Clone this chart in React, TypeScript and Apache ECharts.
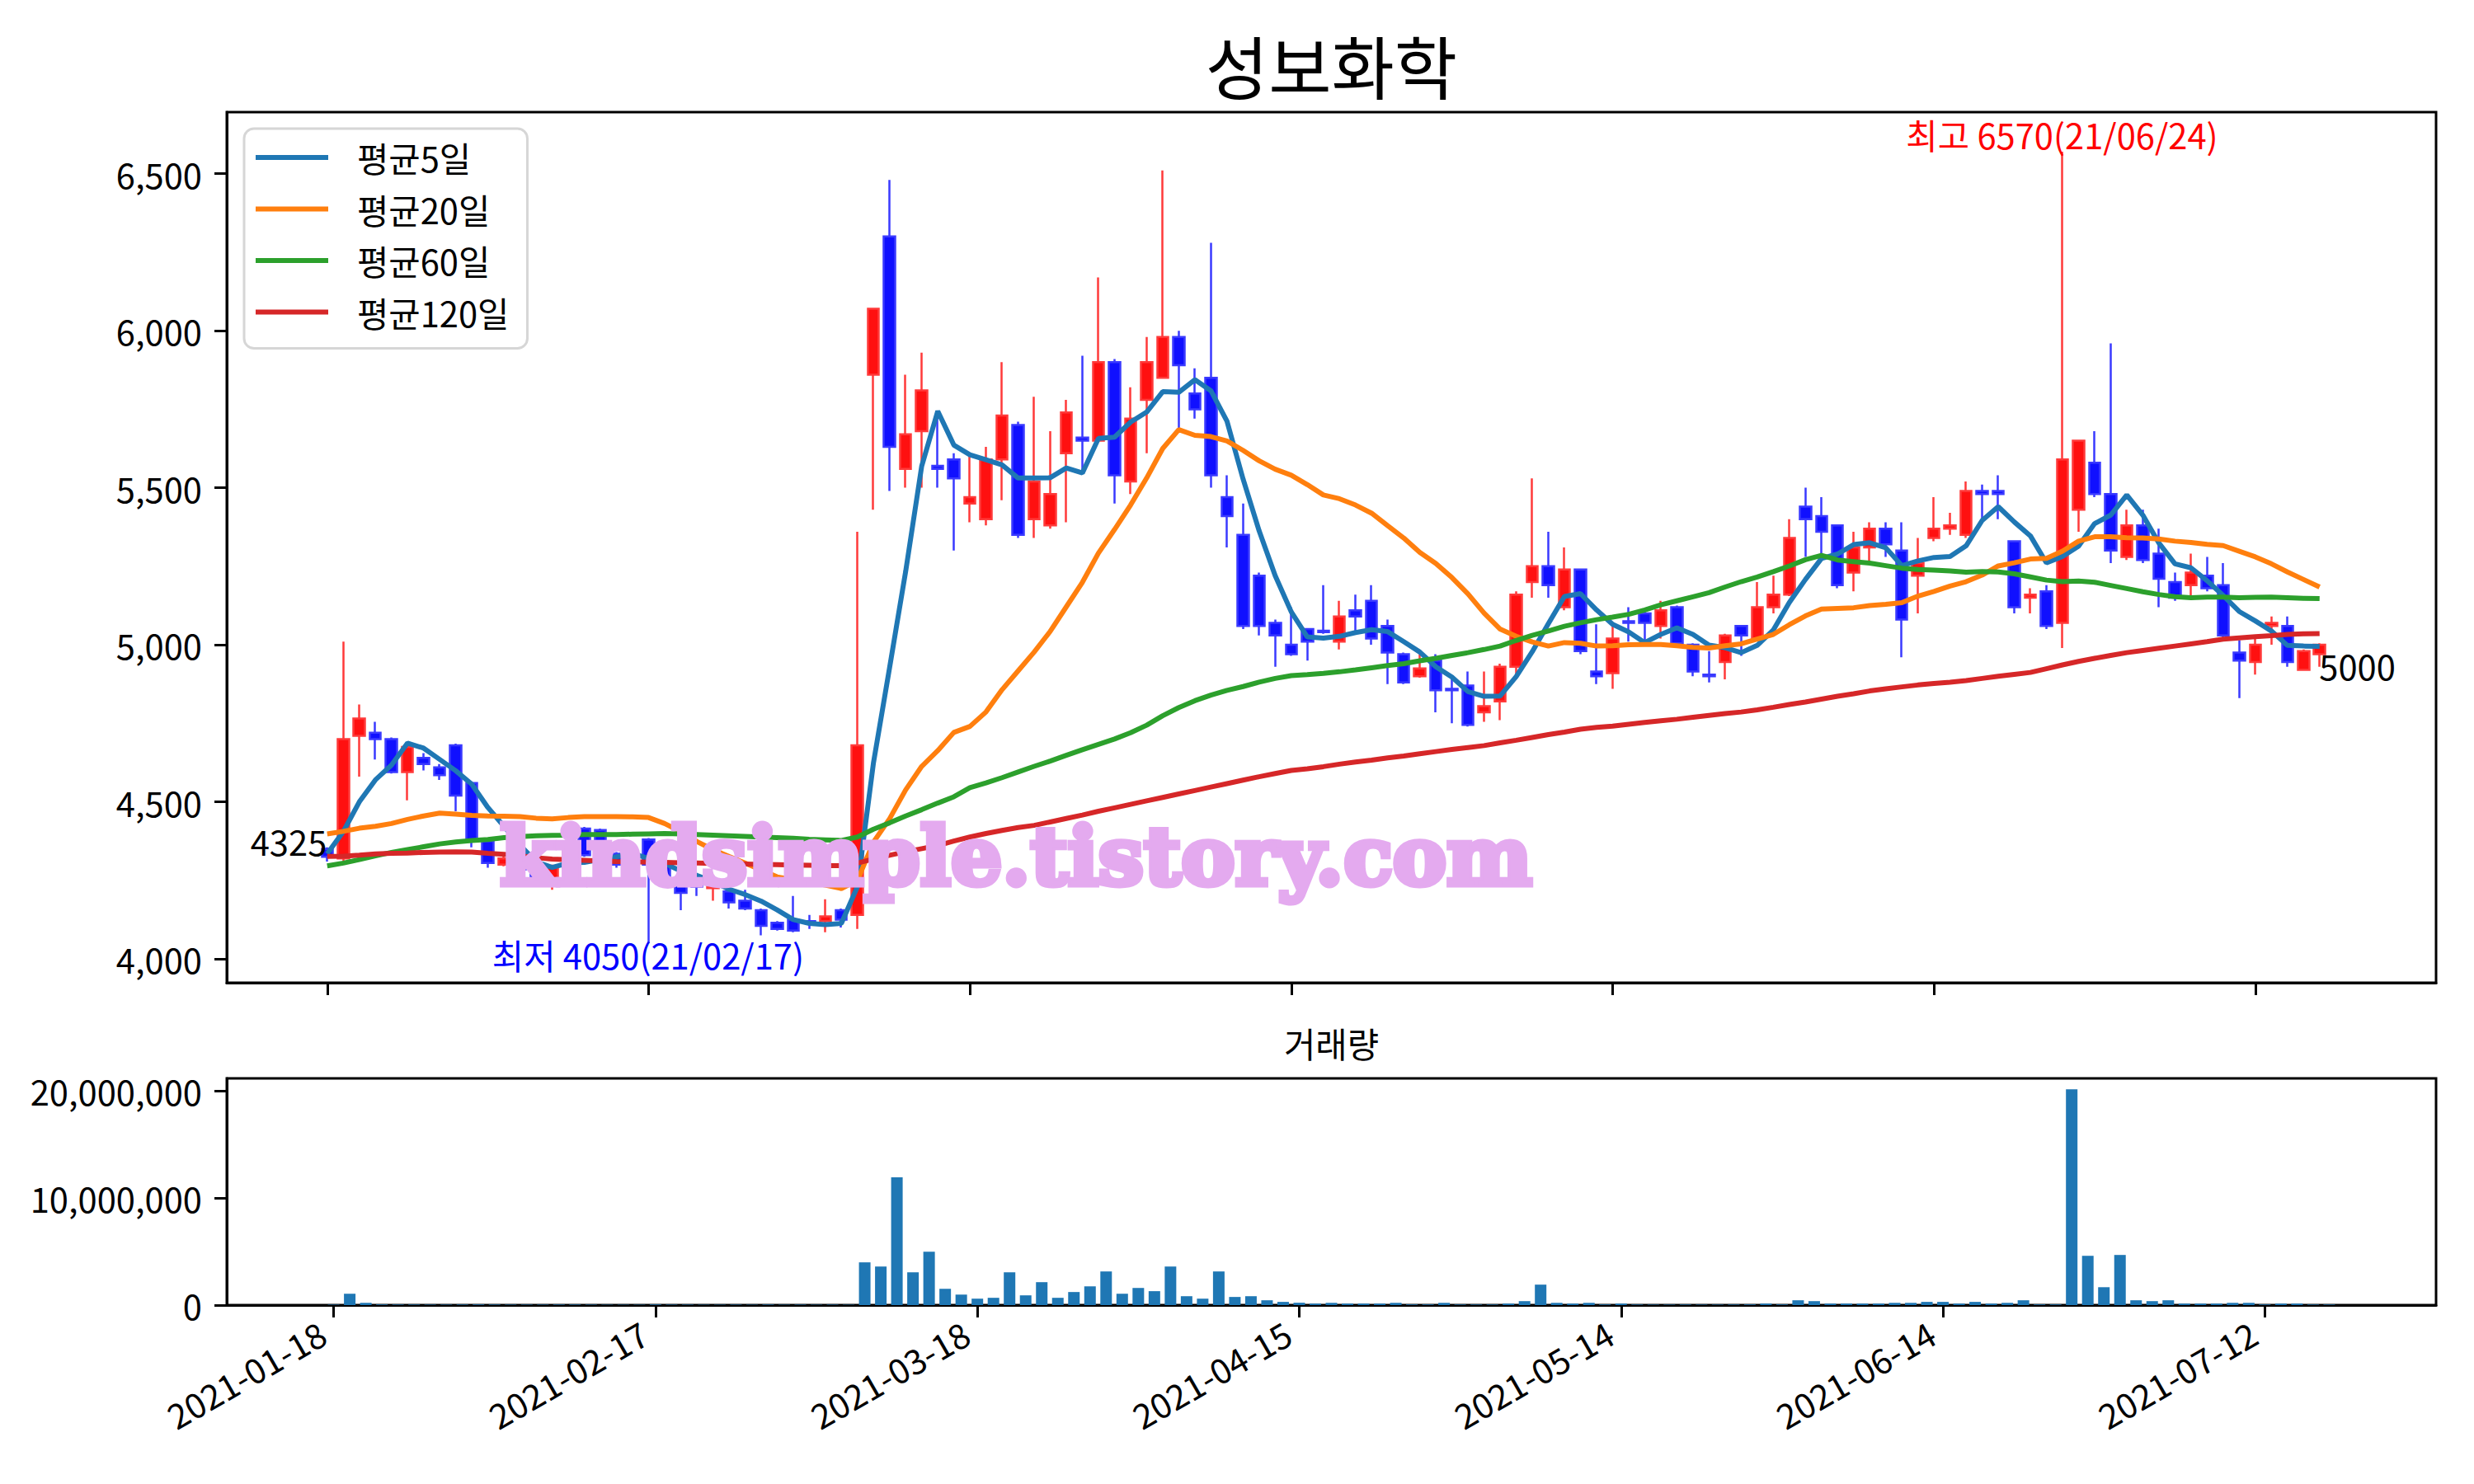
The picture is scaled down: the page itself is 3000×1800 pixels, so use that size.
import React, { useEffect, useRef } from 'react';
import * as echarts from 'echarts';

const FONT = '"Noto Sans CJK KR", "Noto Sans", sans-serif';

const tickIndex = [0, 20, 40, 60, 80, 100, 120];
const tickLabels = ['2021-01-18', '2021-02-17', '2021-03-18', '2021-04-15', '2021-05-14', '2021-06-14', '2021-07-12'];
const priceTicks = [4000, 4500, 5000, 5500, 6000, 6500];
const volumeTicks = [0, 10000000, 20000000];

const opens = [4350,4320,4710,4720,4700,4595,4640,4610,4680,4560, 4375,4300,4320,4285,4250,4290,4415,4410,4335,4300,
  4380,4300,4255,4260,4225,4215,4185,4155,4115,4125, 4120,4120,4155,4140,5860,6300,5560,5680,5570,5590,
  5450,5400,5590,5700,5400,5380,5610,5660,5650,5900, 5520,5780,5850,5980,5800,5850,5470,5350,5220,5070,
  5000,5050,5045,5010,5110,5140,5060,4970,4900,4950, 4860,4870,4785,4820,4930,5200,5250,5120,5240,4915,
  4910,5075,5100,5060,5120,5000,4905,4945,5060,5020, 5120,5160,5440,5410,5380,5230,5310,5370,5300,5220,
  5340,5370,5350,5490,5490,5330,5150,5170,5070,5430, 5580,5480,5280,5380,5290,5200,5190,5220,5190,4975,
  4945,5060,5060,4920,4970];
const closes = [4325,4700,4765,4700,4595,4675,4620,4585,4520,4380, 4305,4320,4285,4255,4290,4375,4330,4330,4300,4340,
  4300,4250,4210,4230,4245,4180,4160,4105,4095,4090, 4115,4135,4125,4680,6070,5630,5670,5810,5560,5530,
  5470,5590,5730,5350,5520,5480,5740,5650,5900,5540, 5720,5900,5980,5890,5750,5540,5410,5060,5060,5030,
  4970,5010,5040,5090,5090,5020,4975,4880,4925,4855, 4855,4745,4805,4930,5160,5250,5190,5240,4980,4900,
  5020,5070,5070,5110,5005,4915,4900,5030,5030,5120, 5160,5340,5400,5360,5190,5310,5370,5320,5080,5260,
  5370,5380,5490,5480,5480,5120,5160,5060,5590,5650, 5480,5300,5380,5270,5210,5150,5230,5180,5030,4950,
  5000,5070,4945,4980,5000];
const lows = [4310,4310,4580,4635,4590,4505,4600,4570,4470,4355, 4290,4295,4280,4250,4220,4285,4325,4325,4290,4295,
  4050,4245,4155,4200,4185,4160,4155,4075,4090,4085, 4095,4085,4100,4095,5430,5490,5500,5500,5500,5300,
  5390,5380,5460,5340,5340,5370,5390,5550,5650,5450, 5480,5610,5850,5690,5720,5500,5310,5050,5030,4930,
  4965,4950,5035,4985,5040,5000,4875,4875,4895,4785, 4750,4740,4755,4760,4890,5150,5150,5110,4970,4875,
  4860,5010,5010,5020,5000,4900,4880,4890,4965,5015, 5100,5155,5280,5280,5180,5170,5260,5280,4960,5100,
  5330,5350,5340,5400,5400,5100,5100,5050,4990,5360, 5470,5260,5270,5260,5120,5140,5150,5170,5020,4830,
  4905,5000,4930,4920,4930];
const highs = [4355,5010,4810,4755,4705,4690,4655,4620,4685,4565, 4380,4330,4330,4290,4300,4390,4420,4415,4340,4350,
  4385,4310,4260,4265,4250,4220,4220,4160,4120,4200, 4140,4190,4160,5360,6070,6480,5860,5930,5720,5610,
  5610,5630,5900,5710,5790,5680,5780,5920,6170,5910, 5820,5980,6510,6000,5880,6280,5540,5450,5230,5080,
  5120,5050,5190,5140,5160,5190,5080,4975,4970,4970, 4890,4915,4915,4940,5170,5530,5360,5310,5240,5065,
  5060,5120,5105,5140,5125,5005,4980,5035,5060,5200, 5220,5400,5500,5470,5380,5360,5390,5390,5390,5340,
  5470,5420,5520,5510,5540,5330,5180,5190,6570,5650, 5680,5960,5430,5430,5370,5230,5290,5280,5260,5015,
  5020,5090,5090,4985,5005];
const volumes = [40000,1060000,210000,60000,50000,50000,40000,40000,50000,60000, 50000,40000,40000,40000,50000,50000,40000,30000,30000,30000,
  60000,40000,40000,30000,30000,40000,30000,50000,30000,40000, 30000,40000,30000,3990000,3600000,11930000,3060000,4990000,1520000,980000,
  600000,680000,3060000,910000,2140000,680000,1220000,1750000,3140000,1060000, 1600000,1300000,3600000,830000,600000,3140000,760000,830000,450000,300000,
  220000,140000,210000,140000,140000,140000,210000,60000,60000,210000, 50000,50000,50000,140000,370000,1910000,210000,140000,210000,60000,
  140000,50000,40000,40000,50000,40000,40000,50000,60000,140000, 60000,450000,370000,140000,140000,140000,140000,210000,210000,300000,
  300000,140000,300000,140000,210000,450000,60000,60000,20150000,4600000, 1670000,4680000,450000,370000,450000,140000,140000,140000,210000,210000,
  60000,140000,140000,50000,50000];
const ma5 = [4335,4405,4500,4570,4617,4687,4671,4635,4599,4556, 4482,4422,4362,4309,4291,4305,4307,4316,4325,4335,
  4320,4304,4280,4266,4247,4222,4205,4184,4156,4125, 4113,4109,4113,4230,4625,4927,5233,5569,5744,5636,
  5605,5589,5573,5531,5531,5532,5563,5547,5657,5661, 5709,5741,5806,5804,5844,5809,5712,5528,5363,5220,
  5105,5025,5021,5027,5039,5048,5042,5010,4977,4930, 4897,4851,4836,4837,4899,4978,5067,5154,5163,5111,
  5065,5041,5007,5033,5054,5033,4999,4991,4975,4998, 5047,5135,5208,5275,5289,5319,5325,5309,5252,5267,
  5278,5281,5315,5396,5440,5391,5347,5261,5281,5314, 5386,5413,5477,5413,5324,5258,5245,5204,5157,5106,
  5076,5044,4998,4996,4995];
const ma20 = [4398,4406,4416,4422,4431,4444,4455,4464,4461,4457, 4455,4454,4453,4448,4446,4450,4453,4453,4453,4452,
  4450,4431,4405,4374,4348,4326,4305,4283,4261,4252, 4244,4235,4224,4250,4372,4446,4538,4613,4663,4721,
  4740,4786,4857,4917,4977,5043,5121,5199,5292,5367, 5445,5531,5625,5685,5667,5663,5649,5619,5586,5559,
  5540,5510,5477,5465,5445,5419,5379,5340,5294,5259, 5214,5162,5101,5050,5027,5009,4996,5007,5005,4996,
  4997,5000,5001,5001,4997,4992,4990,4997,5003,5018, 5033,5064,5092,5114,5116,5118,5125,5129,5134,5155,
  5170,5187,5201,5222,5251,5261,5273,5275,5298,5330, 5344,5344,5341,5340,5337,5330,5326,5320,5316,5298,
  5280,5258,5232,5208,5184];
const ma60 = [4296,4305,4316,4328,4339,4348,4357,4366,4372,4377, 4380,4386,4389,4392,4393,4394,4396,4396,4396,4397,
  4398,4399,4398,4396,4394,4392,4390,4388,4386,4384, 4381,4379,4377,4388,4413,4433,4455,4475,4496,4516,
  4545,4560,4577,4595,4613,4630,4648,4666,4683,4700, 4720,4744,4774,4800,4822,4840,4855,4867,4881,4893,
  4902,4905,4909,4914,4920,4927,4934,4940,4949,4957, 4966,4975,4985,4996,5014,5030,5044,5059,5070,5080,
  5088,5097,5111,5127,5140,5153,5166,5184,5201,5216, 5233,5251,5271,5285,5270,5265,5260,5252,5244,5240,
  5238,5235,5231,5233,5232,5226,5216,5206,5201,5203, 5199,5189,5179,5169,5160,5153,5150,5152,5152,5150,
  5151,5152,5150,5148,5147];
const ma120 = [4326,4327,4330,4334,4336,4337,4339,4340,4341,4340, 4336,4333,4328,4322,4318,4316,4314,4312,4310,4309,
  4308,4307,4306,4305,4304,4303,4302,4301,4300,4299, 4298,4297,4297,4305,4318,4330,4341,4351,4361,4375,
  4388,4399,4409,4418,4425,4436,4447,4458,4470,4481, 4492,4503,4514,4525,4536,4547,4558,4569,4580,4590,
  4600,4605,4612,4620,4627,4633,4640,4646,4653,4660, 4667,4673,4679,4688,4696,4705,4714,4722,4731,4737,
  4741,4747,4753,4758,4763,4769,4775,4781,4786,4793, 4801,4810,4818,4827,4836,4844,4853,4860,4866,4872,
  4877,4881,4886,4893,4900,4906,4912,4924,4936,4947, 4957,4966,4975,4982,4989,4996,5003,5010,5018,5022,
  5026,5029,5033,5035,5036];

const maNames = ['평균5일', '평균20일', '평균60일', '평균120일'];
const maColors = ['#1f77b4', '#ff7f0e', '#2ca02c', '#d62728'];
const maData = [ma5, ma20, ma60, ma120];

const highDate = '21/06/24';
const lowDate = '21/02/17';

export default function App() {
  const ref = useRef<HTMLDivElement>(null);
  useEffect(() => {
    document.body.style.margin = '0';
    const chart = echarts.init(ref.current as HTMLDivElement, null, { renderer: 'svg' });
    const n = closes.length;
    const candles = closes.map((c, i) => [i, opens[i], c, lows[i], highs[i]]);
    const maxHigh = Math.max(...highs);
    const minLow = Math.min(...lows);
    const iHigh = highs.indexOf(maxHigh);
    const iLow = lows.indexOf(minLow);
    const fs = 41.7;
    const axisLine = { show: true, onZero: false, lineStyle: { color: '#000', width: 3 } };
    const tick = (vals: number[]) => ({ show: true, customValues: vals, length: 15, inside: false, lineStyle: { color: '#000', width: 3 } });
    const lbl = (pos: any, align: string, va: string, color: string, text: string) => ({
      show: true, formatter: text, position: pos, align, verticalAlign: va, color,
      fontSize: fs, fontFamily: FONT, opacity: 1,
    });
    const option: any = {
      animation: false,
      backgroundColor: '#fff',
      grid: [
        { left: 275, top: 136, width: 2679, height: 1056, show: true, borderColor: '#000', borderWidth: 3, backgroundColor: 'transparent' },
        { left: 275, top: 1308, width: 2679, height: 275, show: true, borderColor: '#000', borderWidth: 3, backgroundColor: 'transparent' },
      ],
      xAxis: [
        { type: 'value', gridIndex: 0, min: -6.25, max: 131.25, axisLine, axisTick: tick(tickIndex), axisLabel: { show: false }, splitLine: { show: false } },
        {
          type: 'value', gridIndex: 1, min: -6.64, max: 130.64, axisLine, axisTick: tick(tickIndex), splitLine: { show: false },
          axisLabel: {
            customValues: tickIndex, rotate: 30, fontSize: fs, fontFamily: FONT, color: '#000', margin: 22, padding: [0, 16, 0, 0],
            formatter: (v: number) => tickLabels[tickIndex.indexOf(Math.round(v))] || '',
          },
        },
      ],
      yAxis: [
        {
          type: 'value', gridIndex: 0, min: 3924, max: 6696, axisLine, axisTick: tick(priceTicks), splitLine: { show: false },
          axisLabel: { customValues: priceTicks, fontSize: fs, fontFamily: FONT, color: '#000', margin: 30, formatter: (v: number) => v.toLocaleString('en-US') },
        },
        {
          type: 'value', gridIndex: 1, min: 0, max: 21160000, axisLine, axisTick: tick(volumeTicks), splitLine: { show: false },
          axisLabel: { customValues: volumeTicks, fontSize: fs, fontFamily: FONT, color: '#000', margin: 30, formatter: (v: number) => v.toLocaleString('en-US') },
        },
      ],
      legend: {
        data: maNames, left: 296, top: 156, orient: 'vertical', icon: 'rect', itemWidth: 88, itemHeight: 6, itemGap: 14.5,
        selectedMode: false,
        textStyle: { fontSize: fs, fontFamily: FONT, color: '#000', padding: [0, 0, 0, 30], lineHeight: 48 },
        backgroundColor: '#fff', borderColor: '#d6d6d6', borderWidth: 3, borderRadius: 12, padding: [11, 22, 20, 14],
      },
      series: [
        {
          type: 'candlestick', xAxisIndex: 0, yAxisIndex: 0, data: candles, barWidth: 14,
          itemStyle: { color: '#ff1010', color0: '#1010ff', borderColor: '#ff3a3a', borderColor0: '#3a3aff', borderWidth: 2.5 },
        },
        ...maNames.map((name, k) => ({
          type: 'line', name, xAxisIndex: 0, yAxisIndex: 0, showSymbol: false, symbol: 'none',
          data: maData[k].map((v, i) => [i, v]),
          lineStyle: { color: maColors[k], width: 6 }, itemStyle: { color: maColors[k] }, z: 3,
        })),
        {
          type: 'bar', xAxisIndex: 1, yAxisIndex: 1, barWidth: 14, data: volumes.map((v, i) => [i, v]),
          itemStyle: { color: '#1f77b4' },
        },
        {
          type: 'scatter', xAxisIndex: 0, yAxisIndex: 0, symbolSize: 1, itemStyle: { color: 'rgba(0,0,0,0)', opacity: 1 }, silent: true, z: 5,
          data: [
            { value: [iHigh, maxHigh], label: lbl([0, 0], 'center', 'bottom', '#ff0000', `최고 ${maxHigh}(${highDate})`) },
            { value: [iLow, minLow], label: lbl([0, 14], 'center', 'middle', '#0000ff', `최저 ${minLow}(${lowDate})`) },
            { value: [0, closes[0]], label: lbl([0, -19], 'right', 'middle', '#000', `${closes[0]}`) },
            { value: [n - 1, closes[n - 1]], label: lbl([0, 25], 'left', 'middle', '#000', `${closes[n - 1]}`) },
          ],
        },
      ],
      graphic: [
        { type: 'text', x: 1614.5, y: 78, style: { text: '성보화학', fontSize: 83, fontFamily: FONT, fill: '#000', textAlign: 'center', textVerticalAlign: 'middle' } },
        { type: 'text', x: 1614.5, y: 1265, style: { text: '거래량', fontSize: fs, fontFamily: FONT, fill: '#000', textAlign: 'center', textVerticalAlign: 'middle' } },
        {
          type: 'text', x: 1232, y: 1038, z: 100,
          style: { text: 'kindsimple.tistory.com', fontSize: 98, fontWeight: 'bold', fontFamily: '"DejaVu Serif", serif', fill: '#e4aaef', stroke: '#e4aaef', lineWidth: 7, lineJoin: 'round', textAlign: 'center', textVerticalAlign: 'middle' },
        },
      ],
    };
    chart.setOption(option);
    return () => chart.dispose();
  }, []);
  return <div ref={ref} style={{ width: 3000, height: 1800 }} />;
}
